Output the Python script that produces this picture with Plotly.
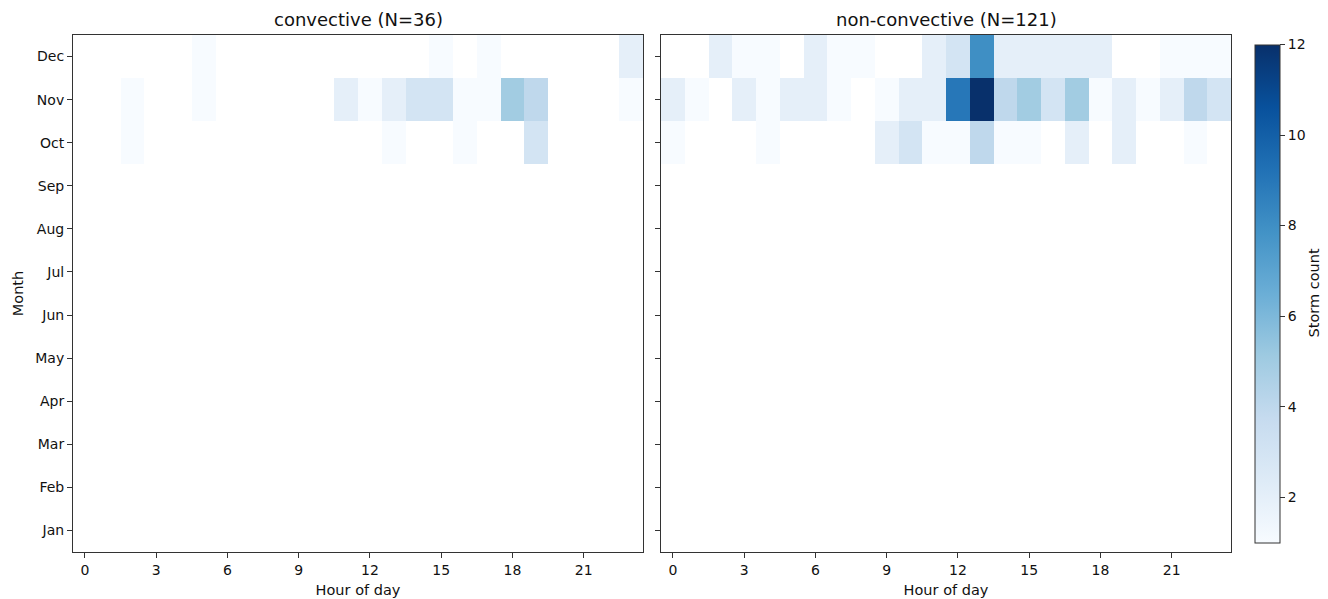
import plotly.graph_objects as go

months = ["Jan", "Feb", "Mar", "Apr", "May", "Jun", "Jul", "Aug", "Sep", "Oct", "Nov", "Dec"]
hours = list(range(24))
hour_ticks = [0, 3, 6, 9, 12, 15, 18, 21]

# storm counts per hour (0..23); months not listed had no storms
conv_oct = [0, 0, 1, 0, 0, 0, 0, 0, 0, 0, 0, 0, 0, 1, 0, 0, 1, 0, 0, 3, 0, 0, 0, 0]
conv_nov = [0, 0, 1, 0, 0, 1, 0, 0, 0, 0, 0, 2, 1, 2, 3, 3, 1, 1, 5, 4, 0, 0, 0, 1]
conv_dec = [0, 0, 0, 0, 0, 1, 0, 0, 0, 0, 0, 0, 0, 0, 0, 1, 0, 1, 0, 0, 0, 0, 0, 2]

nonconv_oct = [1, 0, 0, 0, 1, 0, 0, 0, 0, 2, 3, 1, 1, 4, 1, 1, 0, 2, 0, 2, 0, 0, 1, 0]
nonconv_nov = [2, 1, 0, 2, 1, 2, 2, 1, 0, 1, 2, 2, 9, 12, 4, 5, 3, 5, 1, 2, 1, 2, 4, 3]
nonconv_dec = [0, 0, 2, 1, 1, 0, 2, 1, 1, 0, 0, 2, 3, 8, 2, 2, 2, 2, 2, 0, 0, 1, 1, 1]

titles = ["convective (N=36)", "non-convective (N=121)"]
cbar_ticks = [2, 4, 6, 8, 10, 12]
cbar_title = "Storm count"

blues = [
    [0.0, "#f7fbff"], [0.125, "#deebf7"], [0.25, "#c6dbef"], [0.375, "#9ecae1"],
    [0.5, "#6baed6"], [0.625, "#4292c6"], [0.75, "#2171b5"], [0.875, "#08519c"],
    [1.0, "#08306b"],
]


def build_z(rows_by_month):
    z = []
    for m in months:
        row = rows_by_month.get(m)
        if row is None:
            z.append([None] * len(hours))
        else:
            z.append([v if v > 0 else None for v in row])
    return z


z_conv = build_z({"Oct": conv_oct, "Nov": conv_nov, "Dec": conv_dec})
z_nonconv = build_z({"Oct": nonconv_oct, "Nov": nonconv_nov, "Dec": nonconv_dec})

# page body has an 8px margin: figure is drawn at (8, 8) in the window
OFF = 8
W, H = 1328 - OFF, 599 - OFF
ML = 73 - OFF
MT = 35 - OFF
MB = H - (552 - OFF)
MR = W - (1231 - OFF)
PW = W - ML - MR
PH = H - MT - MB

fig = go.Figure()
fig.add_trace(go.Heatmap(
    x=hours, y=months, z=z_conv, zmin=1, zmax=12, colorscale=blues,
    showscale=False, xaxis="x", yaxis="y", hoverongaps=False,
))
fig.add_trace(go.Heatmap(
    x=hours, y=months, z=z_nonconv, zmin=1, zmax=12, colorscale=blues,
    xaxis="x2", yaxis="y2", hoverongaps=False,
    colorbar=dict(
        xref="container", x=(1255 - OFF) / W, xanchor="left", xpad=0,
        yref="paper", y=(552 - 293.5) / (552 - 35), yanchor="middle", ypad=0,
        len=498 / PH, lenmode="fraction",
        thickness=25, outlinewidth=1, outlinecolor="#333",
        tickvals=cbar_ticks, ticks="outside", ticklen=5, tickcolor="#333",
        tickfont=dict(size=14, color="#111"),
    ),
))

font = dict(family="DejaVu Sans", size=14, color="#111")
axis_common = dict(
    showline=True, mirror=True, linecolor="#333", linewidth=1,
    ticks="outside", ticklen=5, tickcolor="#333", showgrid=False, zeroline=False,
    tickfont=dict(size=14, color="#111"), automargin=False,
)

d1 = [0, (643 - 73) / PW]
d2 = [(661 - 73) / PW, 1]

fig.update_layout(
    width=W, height=H,
    margin=dict(l=ML, r=MR, t=MT, b=MB),
    plot_bgcolor="white", paper_bgcolor="white",
    font=font,
    xaxis=dict(domain=d1, range=[-0.5, 23.5], tickvals=hour_ticks, anchor="y",
               title=dict(text="Hour of day", standoff=8, font=dict(size=14.5)), **axis_common),
    yaxis=dict(domain=[0, 1], categoryorder="array", categoryarray=months, anchor="x",
               range=[-0.5, 11.5],
               title=dict(text="Month", standoff=8, font=dict(size=14.5)), **axis_common),
    xaxis2=dict(domain=d2, range=[-0.5, 23.5], tickvals=hour_ticks, anchor="y2",
                title=dict(text="Hour of day", standoff=8, font=dict(size=14.5)), **axis_common),
    yaxis2=dict(domain=[0, 1], categoryorder="array", categoryarray=months, anchor="x2",
                range=[-0.5, 11.5], showticklabels=False, matches="y", **axis_common),
    annotations=[
        dict(text=titles[0], x=(d1[0] + d1[1]) / 2, y=1, xref="paper", yref="paper",
             xanchor="center", yanchor="bottom", yshift=3, showarrow=False,
             font=dict(size=18, color="#111")),
        dict(text=titles[1], x=(d2[0] + d2[1]) / 2, y=1, xref="paper", yref="paper",
             xanchor="center", yanchor="bottom", yshift=3, showarrow=False,
             font=dict(size=18, color="#111")),
        dict(text=cbar_title, x=(1313 - 73) / PW, y=0.5, xref="paper", yref="paper",
             xanchor="center", yanchor="middle", textangle=-90, showarrow=False,
             font=dict(size=14.5, color="#111")),
    ],
)

fig.write_html("out.html")
